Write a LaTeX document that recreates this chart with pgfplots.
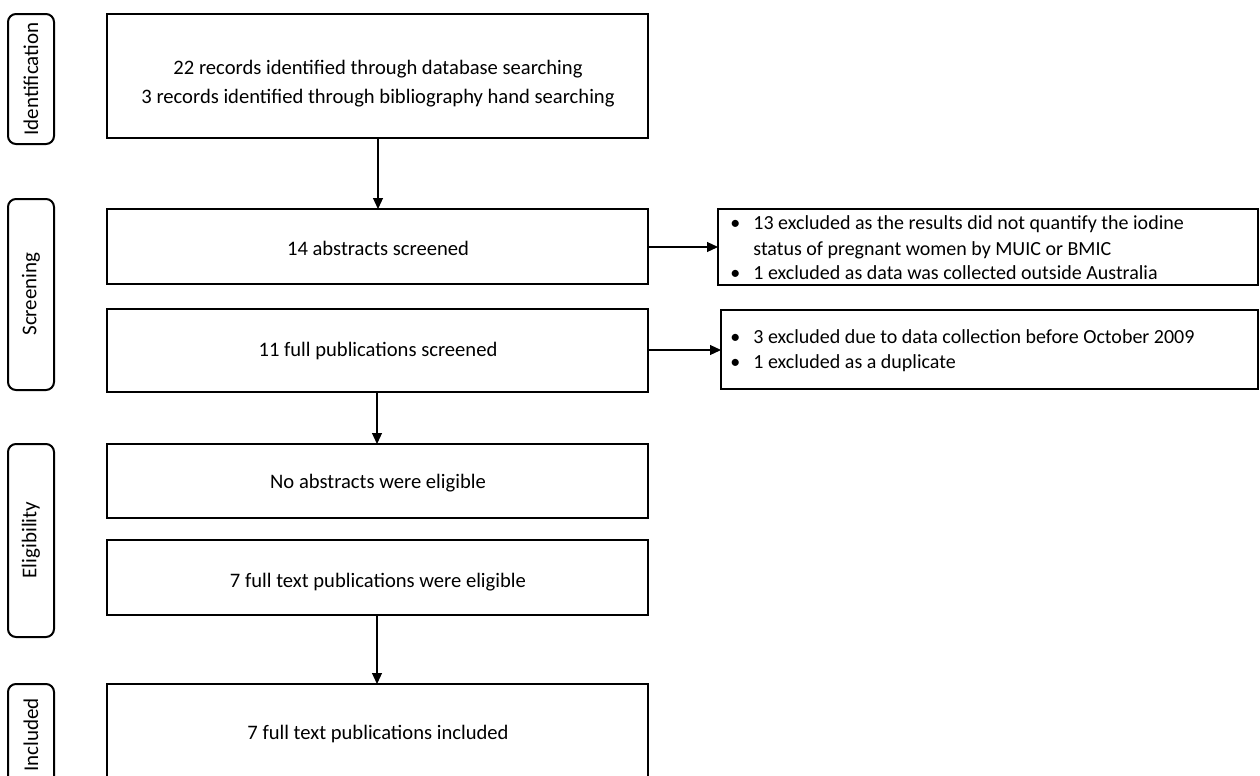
\documentclass[border=0pt]{standalone}
\usepackage{fontspec}
\setmainfont{Carlito}
\usepackage{pgfplots}
\pgfplotsset{compat=1.18}
\usetikzlibrary{arrows.meta}

\begin{document}
\begin{tikzpicture}
\begin{axis}[
    scale only axis,
    width=630pt, height=388pt,
    xmin=0, xmax=1260, ymin=0, ymax=776,
    y dir=reverse,
    axis lines=none,
    ticks=none,
    clip=false,
  ]
  % stage labels
  \draw[line width=1pt, rounded corners=4pt] (8,14) rectangle (54,144);
  \draw[line width=1pt, rounded corners=4pt] (8,199) rectangle (54,390);
  \draw[line width=1pt, rounded corners=4pt] (8,444) rectangle (54,637);
  \draw[line width=1pt, rounded corners=4pt] (8,776) -- (8,684) -- (54,684) -- (54,776);
  \begin{scope}[every node/.style={rotate=90, font=\fontsize{10.5}{12}\selectfont}]
  \node at (31,79) {Identification};
  \node at (31,294) {Screening};
  \node at (31,540) {Eligibility};
  \node at (31,735) {Included};
  \end{scope}

  % main boxes
  \draw[line width=1pt] (107,14) rectangle (648,138);
  \draw[line width=1pt] (107,209) rectangle (648,284);
  \draw[line width=1pt] (107,309) rectangle (648,392);
  \draw[line width=1pt] (107,444) rectangle (648,518);
  \draw[line width=1pt] (107,540) rectangle (648,615);
  \draw[line width=1pt] (107,776) -- (107,684) -- (648,684) -- (648,776);

  \begin{scope}[every node/.style={font=\fontsize{10.3}{14.5}\selectfont, align=center}]
  \node at (378,84) {22 records identified through database searching\\3 records identified through bibliography hand searching};
  \node at (378,248) {14 abstracts screened};
  \node at (378,351) {11 full publications screened};
  \node at (378,483) {No abstracts were eligible};
  \node at (378,582) {7 full text publications were eligible};
  \node at (378,734) {7 full text publications included};
  \end{scope}

  % exclusion boxes
  \draw[line width=1pt] (718,209) rectangle (1258,285);
  \draw[line width=1pt] (721,310) rectangle (1258,389);
  \begin{scope}[every node/.style={font=\fontsize{10}{11}\selectfont, anchor=base west, inner sep=0pt}]
  \node at (730,229) {\textbullet};
  \node at (753,229) {13 excluded as the results did not quantify the iodine};
  \node at (753,255) {status of pregnant women by MUIC or BMIC};
  \node at (730,279) {\textbullet};
  \node at (753,279) {1 excluded as data was collected outside Australia};
  \node at (730,343) {\textbullet};
  \node at (753,343) {3 excluded due to data collection before October 2009};
  \node at (730,368) {\textbullet};
  \node at (753,368) {1 excluded as a duplicate};
  \end{scope}

  % arrows
  \begin{scope}[line width=0.6pt, -{Triangle[length=5.5pt,width=5pt]}]
  \draw (378,138) -- (378,209);
  \draw (377,392) -- (377,444);
  \draw (377,615) -- (377,684);
  \draw (648,247) -- (718,247);
  \draw (648,350) -- (721,350);
  \end{scope}
\end{axis}
\pgfresetboundingbox
\path[use as bounding box] (0,0) rectangle (630pt,388pt);
\end{tikzpicture}
\end{document}
